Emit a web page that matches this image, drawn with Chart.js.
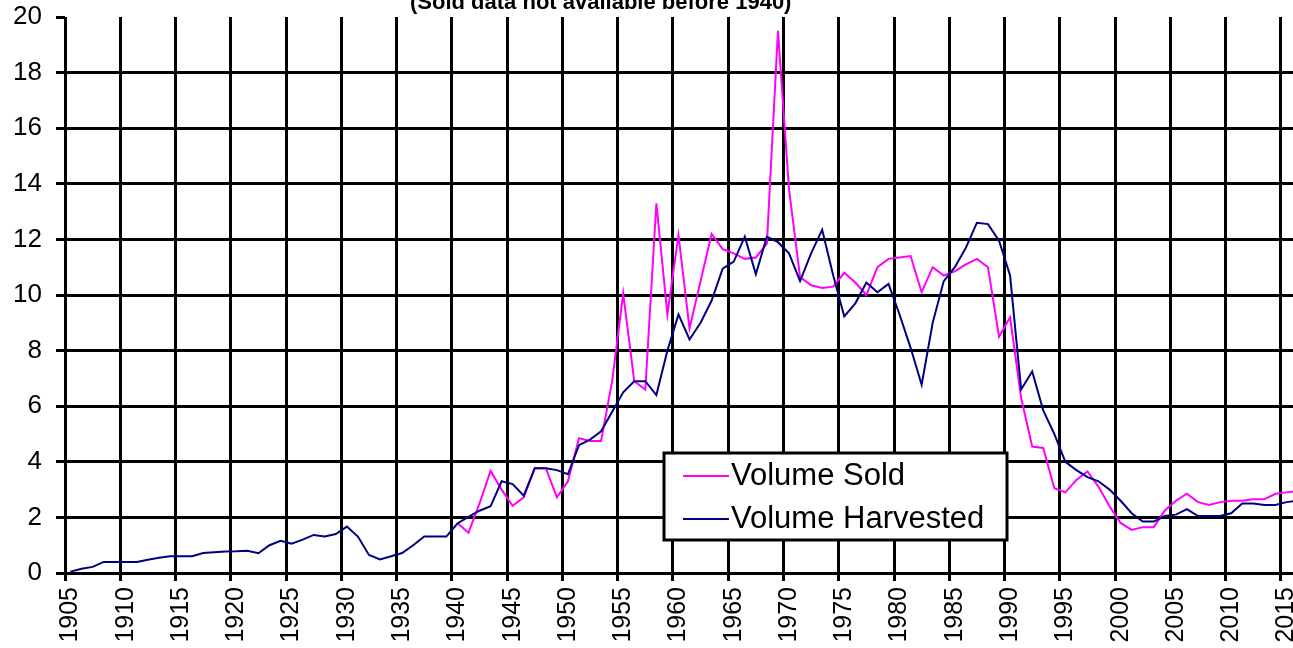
<!DOCTYPE html>
<html>
<head>
<meta charset="utf-8">
<script src="https://cdn.jsdelivr.net/npm/chart.js@4"></script>
<style>
  html, body { margin: 0; padding: 0; background: #fff; overflow: hidden; }
  #wrap { position: absolute; left: 0; top: 0; width: 1303px; height: 648px; }
  #subtitle {
    position: absolute; left: 410px; top: -9px;
    font: bold 22px "Liberation Sans", Arial, sans-serif;
    line-height: 22px; white-space: nowrap; color: #000;
  }
</style>
</head>
<body>
<div id="wrap"><canvas id="volumeChart" width="1303" height="648"></canvas></div>
<div id="subtitle">(Sold data not available before 1940)</div>
<script>
// ============================================================
// DATA — volumes by year, 1905 to 2016
// ============================================================

const years = [
  1905, 1906, 1907, 1908, 1909, 1910, 1911, 1912, 1913, 1914,
  1915, 1916, 1917, 1918, 1919, 1920, 1921, 1922, 1923, 1924,
  1925, 1926, 1927, 1928, 1929, 1930, 1931, 1932, 1933, 1934,
  1935, 1936, 1937, 1938, 1939, 1940, 1941, 1942, 1943, 1944,
  1945, 1946, 1947, 1948, 1949, 1950, 1951, 1952, 1953, 1954,
  1955, 1956, 1957, 1958, 1959, 1960, 1961, 1962, 1963, 1964,
  1965, 1966, 1967, 1968, 1969, 1970, 1971, 1972, 1973, 1974,
  1975, 1976, 1977, 1978, 1979, 1980, 1981, 1982, 1983, 1984,
  1985, 1986, 1987, 1988, 1989, 1990, 1991, 1992, 1993, 1994,
  1995, 1996, 1997, 1998, 1999, 2000, 2001, 2002, 2003, 2004,
  2005, 2006, 2007, 2008, 2009, 2010, 2011, 2012, 2013, 2014,
  2015, 2016
];

// Sold data starts in 1940
const volumeSold = [
  null, null, null, null, null, null, null, null, null, null,
  null, null, null, null, null, null, null, null, null, null,
  null, null, null, null, null, null, null, null, null, null,
  null, null, null, null, null, 1.8, 1.45, 2.5, 3.67, 3.0,
  2.42, 2.72, 3.77, 3.77, 2.72, 3.3, 4.85, 4.75, 4.75, 6.9,
  10.05, 6.9, 6.6, 13.3, 9.3, 12.15, 8.8, 10.5, 12.2, 11.65,
  11.5, 11.3, 11.35, 11.85, 19.5, 13.8, 10.65, 10.35, 10.25, 10.3,
  10.8, 10.45, 10.0, 11.0, 11.3, 11.35, 11.4, 10.1, 11.0, 10.7,
  10.85, 11.1, 11.3, 11.0, 8.5, 9.2, 6.3, 4.55, 4.5, 3.05,
  2.9, 3.35, 3.65, 3.1, 2.4, 1.8, 1.55, 1.65, 1.65, 2.25,
  2.6, 2.85, 2.55, 2.45, 2.55, 2.6, 2.6, 2.65, 2.65, 2.85,
  2.9, 2.95
];

const volumeHarvested = [
  0.05, 0.15, 0.22, 0.4, 0.4, 0.4, 0.4, 0.48, 0.55, 0.6,
  0.6, 0.6, 0.72, 0.75, 0.77, 0.78, 0.8, 0.71, 1.0, 1.16,
  1.05, 1.2, 1.37, 1.31, 1.4, 1.67, 1.31, 0.65, 0.49, 0.6,
  0.72, 1.0, 1.31, 1.31, 1.31, 1.78, 2.02, 2.24, 2.4, 3.3,
  3.2, 2.78, 3.77, 3.77, 3.7, 3.55, 4.6, 4.8, 5.1, 5.8,
  6.5, 6.9, 6.9, 6.4, 8.0, 9.3, 8.4, 9.0, 9.8, 10.95,
  11.2, 12.1, 10.75, 12.1, 11.9, 11.5, 10.5, 11.5, 12.35, 10.7,
  9.23, 9.7, 10.45, 10.1, 10.4, 9.3, 8.1, 6.77, 9.0, 10.5,
  11.0, 11.7, 12.6, 12.55, 11.95, 10.7, 6.6, 7.25, 5.85, 5.0,
  4.0, 3.7, 3.45, 3.3, 3.0, 2.6, 2.15, 1.85, 1.85, 2.05,
  2.1, 2.3, 2.05, 2.05, 2.05, 2.15, 2.5, 2.5, 2.45, 2.45,
  2.55, 2.6
];

const yTicks = [0, 2, 4, 6, 8, 10, 12, 14, 16, 18, 20];

const FONT = '"Liberation Sans", Arial, sans-serif';
const SOLD_COLOR = "#ff00ff";
const HARVEST_COLOR = "#000080";

// ============================================================
// LEGEND BOX (drawn inside the plot, like the original)
// ============================================================

const boxLegend = {
  id: "boxLegend",
  afterDatasetsDraw(chart) {
    const ctx = chart.ctx;
    const box = { left: 664, top: 453, right: 1007, bottom: 540 };
    const rows = [476, 519];

    ctx.save();
    ctx.fillStyle = "#fff";
    ctx.fillRect(box.left, box.top, box.right - box.left, box.bottom - box.top);
    ctx.lineWidth = 3;
    ctx.strokeStyle = "#000";
    ctx.strokeRect(box.left, box.top, box.right - box.left, box.bottom - box.top);

    ctx.font = "31px " + FONT;
    ctx.textBaseline = "middle";
    ctx.fillStyle = "#000";

    chart.data.datasets.forEach((ds, i) => {
      const y = rows[i];
      ctx.beginPath();
      ctx.lineWidth = 2;
      ctx.strokeStyle = ds.borderColor;
      ctx.moveTo(683, y);
      ctx.lineTo(729, y);
      ctx.stroke();
      ctx.fillText(ds.label, 731, y);
    });
    ctx.restore();
  }
};

// ============================================================
// CHART
// ============================================================

new Chart(document.getElementById("volumeChart"), {
  type: "line",
  data: {
    labels: years.map(String),
    datasets: [
      {
        label: "Volume Sold",
        data: volumeSold,
        borderColor: SOLD_COLOR,
        borderWidth: 2,
        pointRadius: 0,
        tension: 0,
        order: 2
      },
      {
        label: "Volume Harvested",
        data: volumeHarvested,
        borderColor: HARVEST_COLOR,
        borderWidth: 2,
        pointRadius: 0,
        tension: 0,
        order: 1
      }
    ]
  },
  options: {
    responsive: false,
    animation: false,
    layout: { padding: { top: 17, left: 0, right: 0, bottom: 0 } },
    plugins: {
      legend: { display: false },
      tooltip: { enabled: false },
      title: { display: false }
    },
    scales: {
      x: {
        type: "category",
        offset: true,
        border: { display: false },
        grid: {
          offset: true,
          lineWidth: 3,
          tickLength: 8,
          color: ctx => (ctx.type === "tick" && ctx.index % 5 === 0) ? "#000" : "rgba(0,0,0,0)"
        },
        ticks: {
          autoSkip: false,
          minRotation: 90,
          maxRotation: 90,
          padding: 6,
          color: "#000",
          font: { family: FONT, size: 25 },
          callback: function (value, index) {
            return index % 5 === 0 ? years[index] : "";
          }
        },
        afterFit(scale) {
          scale.height = 75;
          scale.paddingLeft = 0;
          scale.paddingRight = 0;
        }
      },
      y: {
        min: 0,
        max: 20,
        border: { display: false },
        afterBuildTicks(scale) {
          scale.ticks = yTicks.map(v => ({ value: v }));
        },
        grid: {
          lineWidth: 3,
          tickLength: 9,
          color: ctx => (ctx.tick && ctx.tick.value === 20) ? "rgba(0,0,0,0)" : "#000",
          tickColor: "#000"
        },
        ticks: {
          padding: 14,
          color: "#000",
          font: { family: FONT, size: 26 }
        },
        afterFit(scale) {
          scale.width = 65;
          scale.paddingTop = 0;
          scale.paddingBottom = 0;
        }
      }
    }
  },
  plugins: [boxLegend]
});
</script>
</body>
</html>
